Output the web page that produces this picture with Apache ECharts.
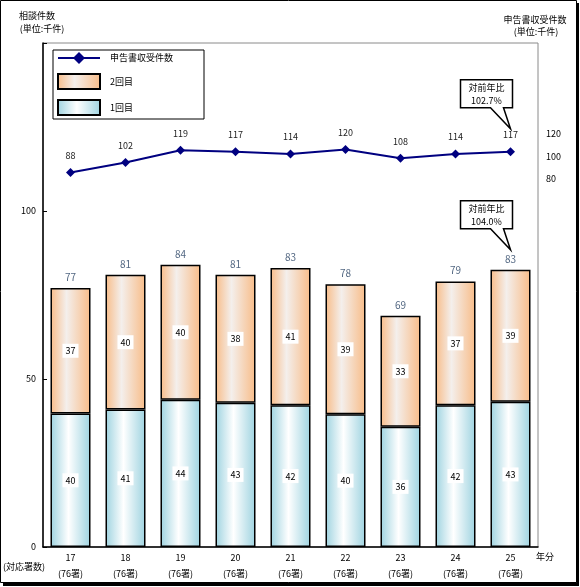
<!DOCTYPE html>
<html><head><meta charset="utf-8">
<script src="https://cdn.jsdelivr.net/npm/echarts@6/dist/echarts.min.js"></script>
<style>html,body{margin:0;padding:0;background:#fff}#c{width:580px;height:587px}</style>
</head><body><div id="c"></div>
<script>
// ---- data ----
const years = ['17','18','19','20','21','22','23','24','25'];
const offices = [76,76,76,76,76,76,76,76,76];
const first  = [39.7, 40.9, 43.8, 42.9, 42.2, 39.5, 35.8, 42.2, 43.2];   // 1回目 (千件)
const second = [37.4, 40.1, 40.2, 38.1, 40.8, 38.7, 33.0, 36.8, 39.3];   // 2回目 (千件)
const filings = [88, 102, 119, 117, 114, 120, 108, 114, 117];           // 申告書収受件数 (千件)
const leftTicks = [0, 50, 100];
const rightTicks = [80, 100, 120];
const lineRatio = '102.7%';
const barRatio = '104.0%';

const FONT = '"Noto Sans CJK JP", "Noto Sans", sans-serif';
const totals = first.map((v, i) => v + second[i]);

const grad = (edge, mid, pos) => ({
  type: 'linear', x: 0, y: 0, x2: 1, y2: 0,
  colorStops: [{offset: 0, color: edge}, {offset: pos, color: mid}, {offset: 1, color: edge}]
});
const orange = grad('#F8BC88', '#F4EFEC', 0.4);
const blue = grad('#9ED3E0', '#FFFFFF', 0.45);

const innerLabel = {
  show: true, position: 'inside', color: '#000', fontSize: 9, fontFamily: FONT,
  backgroundColor: '#fff', padding: [3, 3, 2, 3],
  formatter: p => Math.round(p.value)
};

const chart = echarts.init(document.getElementById('c'), null, {renderer: 'canvas'});
chart.setOption({
  animation: false,
  backgroundColor: '#fff',
  textStyle: {fontFamily: FONT},
  grid: {left: 43, right: 42, top: 43, bottom: 40, show: true, borderColor: '#8a8a8a', borderWidth: 1, backgroundColor: 'transparent'},
  legend: {
    orient: 'vertical', left: 53, top: 50,
    data: [{name: '申告書収受件数'}, {name: '2回目', icon: 'rect'}, {name: '1回目', icon: 'rect'}],
    itemWidth: 42, itemHeight: 15, itemGap: 9,
    borderColor: '#000', borderWidth: 1, padding: [2, 31, 3, 4],
    textStyle: {fontSize: 9, color: '#000', fontFamily: FONT, padding: [0, 0, 0, 5]}
  },
  xAxis: {
    type: 'category', data: years,
    axisLine: {lineStyle: {color: '#000', width: 1.5}},
    axisTick: {inside: true, length: 4, lineStyle: {color: '#000'}},
    axisLabel: {
      color: '#000', fontSize: 9, fontFamily: FONT, lineHeight: 16, margin: 3,
      formatter: (v, i) => v + '\n(' + offices[i] + '署)'
    }
  },
  yAxis: [
    {
      type: 'value', min: 0, max: 150, interval: 50, position: 'left',
      axisLine: {show: true, lineStyle: {color: '#000', width: 1.5}},
      axisTick: {show: true, inside: true, length: 4, lineStyle: {color: '#000'}},
      splitLine: {show: false},
      axisLabel: {color: '#000', fontSize: 9, fontFamily: FONT, margin: 7,
        formatter: v => leftTicks.includes(v) ? String(v) : ''}
    },
    {
      type: 'value', min: -432, max: 268, position: 'right', show: false, splitLine: {show: false}
    },
    {
      type: 'value', min: -252, max: 202, interval: 4, position: 'right',
      axisLine: {show: false}, axisTick: {show: false}, splitLine: {show: false},
      axisLabel: {color: '#000', fontSize: 9, fontFamily: FONT, margin: 8,
        formatter: v => rightTicks.includes(v) ? String(v) : ''}
    }
  ],
  series: [
    {
      name: '1回目', type: 'bar', stack: 'a', data: first, barWidth: 40,
      itemStyle: {color: blue, borderColor: '#000', borderWidth: 1.5},
      label: innerLabel
    },
    {
      name: '2回目', type: 'bar', stack: 'a', data: second, barWidth: 40,
      itemStyle: {color: orange, borderColor: '#000', borderWidth: 1.5},
      label: innerLabel
    },
    {
      name: '合計', type: 'scatter', data: totals, symbolSize: 0, silent: true,
      label: {show: true, position: 'top', distance: 6, color: '#243F60', fontSize: 10, fontFamily: FONT,
        formatter: p => Math.round(p.value)}
    },
    {
      name: '申告書収受件数', type: 'line', yAxisIndex: 1, data: filings, z: 5,
      symbol: 'diamond', symbolSize: 9,
      lineStyle: {color: '#000080', width: 2},
      itemStyle: {color: '#000080'},
      label: {show: true, position: 'top', distance: 8, color: '#222', fontSize: 9, fontFamily: FONT}
    }
  ]
});

// ---- annotations positioned via the chart's own scales ----
const last = years.length - 1;
const pLine = chart.convertToPixel({seriesIndex: 3}, [last, filings[last]]);
const pBar = chart.convertToPixel({xAxisIndex: 0, yAxisIndex: 0}, [last, totals[last]]);

function callout(tipX, tipY, text) {
  const L = tipX - 50, R = tipX + 2, B = tipY - 21, T = tipY - 49;
  return [
    {type: 'polygon', z: 100,
      shape: {points: [[L, T], [R, T], [R, B], [tipX - 7, B], [tipX, tipY], [tipX - 20, B], [L, B]]},
      style: {fill: '#fff', stroke: '#000', lineWidth: 1.5}},
    {type: 'text', z: 101, x: (L + R) / 2, y: (T + B) / 2,
      style: {text: '対前年比\n' + text, fill: '#000', font: '9px ' + FONT, align: 'center', verticalAlign: 'middle', lineHeight: 13}}
  ];
}

const t = (x, y, text, align) => ({type: 'text', x, y,
  style: {text, fill: '#000', font: '9px ' + FONT, align: align || 'left', verticalAlign: 'middle'}});

chart.setOption({
  graphic: [
    {type: 'rect', z: -1, shape: {x: 3, y: 3, width: 576, height: 583}, style: {fill: '#000'}},
    {type: 'rect', z: -1, shape: {x: 0.5, y: 0.5, width: 576, height: 582}, style: {fill: '#fff', stroke: '#000', lineWidth: 1}},
    t(37, 16, '相談件数', 'center'),
    t(42, 29, '(単位:千件)', 'center'),
    t(535, 20, '申告書収受件数', 'center'),
    t(536, 32, '(単位:千件)', 'center'),
    t(536, 557, '年分', 'left'),
    t(3, 567, '(対応署数)', 'left'),
    ...callout(pLine[0], pLine[1] - 23, lineRatio),
    ...callout(pBar[0], pBar[1] - 20, barRatio)
  ]
});
</script></body></html>
